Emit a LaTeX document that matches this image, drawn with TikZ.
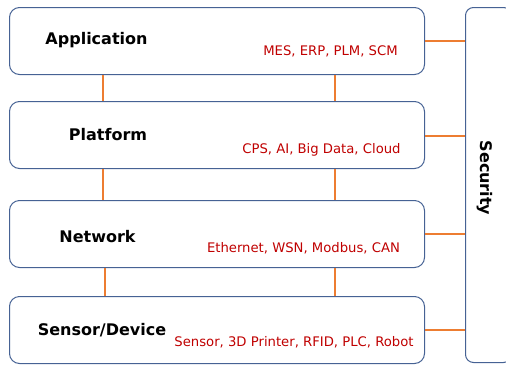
\documentclass[tikz,border=0pt]{standalone}
\usepackage{fontspec}
\setmainfont{DejaVu Sans}
\definecolor{boxblue}{RGB}{70,98,148}
\definecolor{connorange}{RGB}{237,125,49}
\definecolor{itemred}{RGB}{192,0,0}
\begin{document}
\begin{tikzpicture}[x=1pt,y=-1pt,
  layerbox/.style={draw=boxblue,line width=1pt,rounded corners=10pt,fill=white,
    minimum width=415pt,minimum height=67pt,anchor=north west,inner sep=0pt},
  secbox/.style={draw=boxblue,line width=1pt,rounded corners=8pt,fill=white,
    minimum width=46pt,minimum height=355pt,anchor=north west,inner sep=0pt},
  conn/.style={draw=connorange,line width=1.5pt},
  title/.style={font=\fontsize{16}{18}\selectfont\bfseries,text=black,inner sep=0pt},
  items/.style={font=\fontsize{13.2}{15}\selectfont,text=itemred,inner sep=0pt}]
\clip (0,0) rectangle (506,365);
\useasboundingbox (0,0) rectangle (506,365);
\node[layerbox] (app) at (9,7) {};
\node[layerbox] (plat) at (9,101) {};
\node[layerbox] (net) at (9,200) {};
\node[layerbox] (sen) at (9,296) {};
\node[secbox] (sec) at (465,7) {};
\node[title,rotate=-90] (sect) at (485,178) {Security};
\node[title] (appt) at (96.5,40) {Application};
\node[items] (appi) at (330.5,51) {MES, ERP, PLM, SCM};
\node[title] (platt) at (108,135) {Platform};
\node[items] (plati) at (321.5,150) {CPS, AI, Big Data, Cloud};
\node[title] (nett) at (97.5,237) {Network};
\node[items] (neti) at (303.5,248) {Ethernet, WSN, Modbus, CAN};
\node[title] (sent) at (102,330) {Sensor/Device};
\node[items] (seni) at (294,342) {Sensor, 3D Printer, RFID, PLC, Robot};
\coordinate (L1) at (103,0);
\coordinate (L3) at (105,0);
\coordinate (R) at (335,0);
\draw[conn] (app.south -| L1) -- (plat.north -| L1);
\draw[conn] (app.south -| R) -- (plat.north -| R);
\draw[conn] (plat.south -| L1) -- (net.north -| L1);
\draw[conn] (plat.south -| R) -- (net.north -| R);
\draw[conn] (net.south -| L3) -- (sen.north -| L3);
\draw[conn] (net.south -| R) -- (sen.north -| R);
\draw[conn] (app.east |- 0,41) -- (sec.west |- 0,41);
\draw[conn] (plat.east |- 0,136) -- (sec.west |- 0,136);
\draw[conn] (net.east |- 0,234) -- (sec.west |- 0,234);
\draw[conn] (sen.east |- 0,330) -- (sec.west |- 0,330);
\end{tikzpicture}
\end{document}
